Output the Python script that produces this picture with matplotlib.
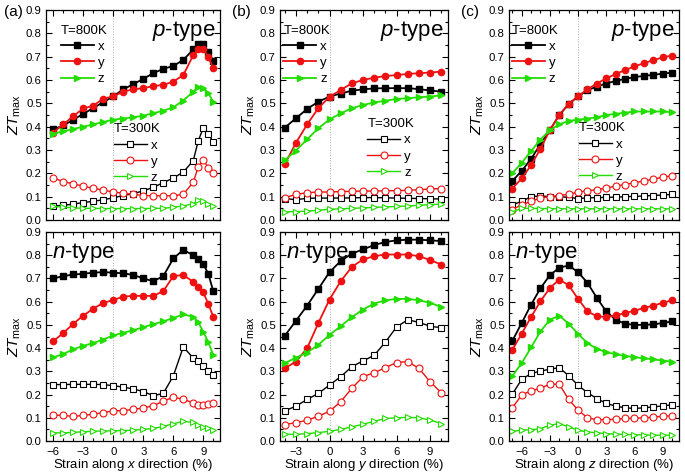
import matplotlib
matplotlib.use("Agg")
import matplotlib.pyplot as plt
from matplotlib.ticker import MultipleLocator, FixedLocator

plt.rcParams['font.family'] = ['Liberation Sans', 'DejaVu Sans']
plt.rcParams['mathtext.fontset'] = 'custom'
plt.rcParams['mathtext.rm'] = 'Liberation Sans'
plt.rcParams['mathtext.it'] = 'Liberation Sans:italic'

# ---------------- data ----------------
# strain values
strain_a = [-6, -5, -4, -3, -2, -1, 0, 1, 2, 3, 4, 5, 6, 7, 8, 8.5, 9, 9.5, 10]
strain_b = [-4, -3, -2, -1, 0, 1, 2, 3, 4, 5, 6, 7, 8, 9, 10]
strain_c = [-7, -6, -5, -4, -3, -2, -1, 0, 1, 2, 3, 4, 5, 6, 7, 8, 9, 10]

# (a) p-type
a_p_800_x = [0.388, 0.405, 0.43, 0.455, 0.48, 0.505, 0.53, 0.56, 0.582, 0.605, 0.629, 0.648, 0.66, 0.686, 0.731, 0.753, 0.753, 0.721, 0.683]
a_p_800_y = [0.375, 0.41, 0.445, 0.478, 0.49, 0.52, 0.53, 0.55, 0.56, 0.565, 0.574, 0.579, 0.593, 0.621, 0.707, 0.731, 0.731, 0.70, 0.65]
a_p_800_z = [0.37, 0.38, 0.39, 0.40, 0.41, 0.42, 0.43, 0.435, 0.44, 0.447, 0.458, 0.468, 0.483, 0.512, 0.55, 0.571, 0.564, 0.543, 0.507]
a_p_300_x = [0.06, 0.063, 0.068, 0.075, 0.08, 0.087, 0.095, 0.105, 0.113, 0.125, 0.14, 0.16, 0.18, 0.205, 0.255, 0.34, 0.395, 0.37, 0.333]
a_p_300_y = [0.18, 0.165, 0.155, 0.145, 0.136, 0.128, 0.12, 0.115, 0.11, 0.105, 0.104, 0.104, 0.104, 0.11, 0.162, 0.228, 0.257, 0.225, 0.203]
a_p_300_z = [0.058, 0.055, 0.052, 0.05, 0.05, 0.049, 0.049, 0.049, 0.049, 0.049, 0.05, 0.05, 0.055, 0.06, 0.07, 0.085, 0.08, 0.07, 0.06]

# (a) n-type
a_n_800_x = [0.70, 0.71, 0.717, 0.72, 0.725, 0.727, 0.725, 0.722, 0.715, 0.70, 0.688, 0.71, 0.786, 0.823, 0.80, 0.785, 0.762, 0.72, 0.645]
a_n_800_y = [0.43, 0.465, 0.505, 0.54, 0.57, 0.595, 0.607, 0.622, 0.625, 0.625, 0.625, 0.645, 0.71, 0.715, 0.685, 0.665, 0.64, 0.59, 0.535]
a_n_800_z = [0.36, 0.375, 0.395, 0.41, 0.422, 0.437, 0.455, 0.466, 0.477, 0.49, 0.503, 0.515, 0.53, 0.545, 0.535, 0.512, 0.47, 0.425, 0.37]
a_n_300_x = [0.243, 0.243, 0.244, 0.244, 0.244, 0.243, 0.238, 0.232, 0.224, 0.213, 0.195, 0.205, 0.28, 0.405, 0.357, 0.345, 0.322, 0.30, 0.285]
a_n_300_y = [0.112, 0.11, 0.106, 0.11, 0.116, 0.122, 0.13, 0.131, 0.136, 0.142, 0.152, 0.172, 0.188, 0.18, 0.164, 0.156, 0.157, 0.16, 0.164]
a_n_300_z = [0.035, 0.035, 0.037, 0.04, 0.042, 0.043, 0.044, 0.045, 0.047, 0.05, 0.054, 0.063, 0.074, 0.085, 0.08, 0.07, 0.06, 0.054, 0.048]

# (b) p-type
b_p_800_x = [0.396, 0.436, 0.476, 0.507, 0.529, 0.542, 0.554, 0.56, 0.564, 0.565, 0.565, 0.565, 0.561, 0.555, 0.55]
b_p_800_y = [0.239, 0.331, 0.41, 0.479, 0.528, 0.557, 0.586, 0.60, 0.61, 0.617, 0.621, 0.626, 0.629, 0.632, 0.636]
b_p_800_z = [0.257, 0.297, 0.346, 0.393, 0.431, 0.457, 0.479, 0.493, 0.504, 0.511, 0.519, 0.522, 0.526, 0.529, 0.534]
b_p_300_x = [0.092, 0.087, 0.093, 0.094, 0.094, 0.094, 0.095, 0.096, 0.096, 0.095, 0.094, 0.093, 0.092, 0.091, 0.09]
b_p_300_y = [0.095, 0.11, 0.117, 0.12, 0.12, 0.122, 0.123, 0.124, 0.124, 0.125, 0.126, 0.127, 0.13, 0.133, 0.135]
b_p_300_z = [0.035, 0.036, 0.038, 0.042, 0.046, 0.048, 0.05, 0.052, 0.054, 0.056, 0.058, 0.06, 0.063, 0.066, 0.068]

# (b) n-type
b_n_800_x = [0.453, 0.518, 0.583, 0.655, 0.727, 0.775, 0.807, 0.825, 0.844, 0.857, 0.864, 0.867, 0.867, 0.864, 0.861]
b_n_800_y = [0.313, 0.342, 0.40, 0.508, 0.609, 0.688, 0.75, 0.782, 0.796, 0.803, 0.803, 0.803, 0.796, 0.779, 0.76]
b_n_800_z = [0.335, 0.359, 0.381, 0.414, 0.457, 0.494, 0.534, 0.566, 0.592, 0.606, 0.612, 0.612, 0.606, 0.595, 0.577]
b_n_300_x = [0.13, 0.15, 0.179, 0.205, 0.241, 0.277, 0.32, 0.345, 0.369, 0.426, 0.491, 0.522, 0.511, 0.494, 0.488]
b_n_300_y = [0.071, 0.079, 0.089, 0.107, 0.128, 0.169, 0.227, 0.277, 0.294, 0.316, 0.338, 0.342, 0.313, 0.255, 0.208]
b_n_300_z = [0.029, 0.028, 0.032, 0.036, 0.042, 0.05, 0.061, 0.072, 0.085, 0.097, 0.10, 0.102, 0.10, 0.09, 0.075]

# (c) p-type
c_p_800_x = [0.167, 0.21, 0.262, 0.325, 0.385, 0.45, 0.497, 0.53, 0.556, 0.572, 0.585, 0.596, 0.605, 0.612, 0.618, 0.622, 0.627, 0.632]
c_p_800_y = [0.135, 0.178, 0.235, 0.305, 0.385, 0.45, 0.497, 0.53, 0.56, 0.585, 0.607, 0.625, 0.643, 0.658, 0.672, 0.685, 0.697, 0.705]
c_p_800_z = [0.20, 0.245, 0.295, 0.345, 0.385, 0.41, 0.425, 0.43, 0.435, 0.44, 0.45, 0.455, 0.46, 0.465, 0.465, 0.465, 0.465, 0.462]
c_p_300_x = [0.065, 0.08, 0.10, 0.103, 0.10, 0.10, 0.097, 0.092, 0.095, 0.096, 0.097, 0.098, 0.10, 0.101, 0.103, 0.105, 0.107, 0.11]
c_p_300_y = [0.045, 0.065, 0.08, 0.095, 0.10, 0.105, 0.11, 0.12, 0.125, 0.13, 0.137, 0.145, 0.152, 0.16, 0.167, 0.175, 0.183, 0.19]
c_p_300_z = [0.035, 0.05, 0.05, 0.049, 0.049, 0.048, 0.048, 0.048, 0.048, 0.048, 0.048, 0.048, 0.048, 0.048, 0.048, 0.048, 0.048, 0.048]

# (c) n-type
c_n_800_x = [0.431, 0.508, 0.587, 0.658, 0.714, 0.746, 0.756, 0.727, 0.681, 0.616, 0.558, 0.522, 0.505, 0.50, 0.50, 0.502, 0.508, 0.515]
c_n_800_y = [0.392, 0.462, 0.534, 0.602, 0.659, 0.695, 0.671, 0.612, 0.558, 0.537, 0.534, 0.541, 0.551, 0.561, 0.573, 0.583, 0.595, 0.606]
c_n_800_z = [0.28, 0.335, 0.403, 0.472, 0.522, 0.54, 0.505, 0.462, 0.421, 0.397, 0.382, 0.374, 0.366, 0.361, 0.356, 0.352, 0.346, 0.342]
c_n_300_x = [0.202, 0.265, 0.291, 0.301, 0.309, 0.316, 0.281, 0.24, 0.208, 0.183, 0.162, 0.15, 0.143, 0.14, 0.143, 0.147, 0.151, 0.156]
c_n_300_y = [0.143, 0.198, 0.216, 0.227, 0.245, 0.244, 0.179, 0.133, 0.10, 0.092, 0.092, 0.094, 0.097, 0.098, 0.10, 0.102, 0.107, 0.108]
c_n_300_z = [0.042, 0.046, 0.049, 0.053, 0.068, 0.075, 0.061, 0.046, 0.039, 0.035, 0.032, 0.029, 0.028, 0.027, 0.026, 0.025, 0.025, 0.025]

panel_labels = ['(a)', '(b)', '(c)']
dir_labels = ['x', 'y', 'z']
xticks_a = [-6, -3, 0, 3, 6, 9]
xticks_b = [-3, 0, 3, 6, 9]
xticks_c = [-6, -3, 0, 3, 6, 9]
series_names = ['x', 'y', 'z']

# ---------------- style ----------------
COLORS = ['black', '#ee1111', '#22dd00']
MARKERS = ['s', 'o', '>']
W, H = 685, 474
fig = plt.figure(figsize=(W / 100, H / 100), dpi=100)


def ax_rect(left, right, top, bottom):
    return [left / W, 1 - bottom / H, (right - left) / W, (bottom - top) / H]


cols = [(46, 220, (-6.73, 10.67)), (280, 448, (-4.43, 10.6)), (509, 679, (-7.35, 10.74))]
rows = [(10, 220), (232, 441)]

strains = [strain_a, strain_b, strain_c]
xticks_all = [xticks_a, xticks_b, xticks_c]
data = [
    [[a_p_800_x, a_p_800_y, a_p_800_z, a_p_300_x, a_p_300_y, a_p_300_z],
     [a_n_800_x, a_n_800_y, a_n_800_z, a_n_300_x, a_n_300_y, a_n_300_z]],
    [[b_p_800_x, b_p_800_y, b_p_800_z, b_p_300_x, b_p_300_y, b_p_300_z],
     [b_n_800_x, b_n_800_y, b_n_800_z, b_n_300_x, b_n_300_y, b_n_300_z]],
    [[c_p_800_x, c_p_800_y, c_p_800_z, c_p_300_x, c_p_300_y, c_p_300_z],
     [c_n_800_x, c_n_800_y, c_n_800_z, c_n_300_x, c_n_300_y, c_n_300_z]],
]
leg800_pos = [(0.085, 0.93), (0.02, 0.93), (0.015, 0.93)]
leg300_pos = [(0.39, 0.46), (0.52, 0.485), (0.41, 0.465)]

TICK_FS = 8.2
LEG_FS = 9.5

for ci, (l, r, xlim) in enumerate(cols):
    x = strains[ci]
    for ri, (t, b) in enumerate(rows):
        ax = fig.add_axes(ax_rect(l, r, t, b))
        series = data[ci][ri]
        hot, cold = [], []
        for k in range(3):
            h, = ax.plot(x, series[k], color=COLORS[k], marker=MARKERS[k], ms=4.5,
                         lw=1.3, mfc=COLORS[k], mec=COLORS[k], label=series_names[k])
            hot.append(h)
        for k in range(3):
            h, = ax.plot(x, series[3 + k], color=COLORS[k], marker=MARKERS[k], ms=5,
                         lw=1.0, mfc='white', mec=COLORS[k], mew=0.8, label=series_names[k])
            cold.append(h)
        ax.axvline(0, color='#aaaaaa', lw=0.7, ls=':', zorder=0)
        ax.set_xlim(*xlim)
        ax.set_ylim(0, 0.9)
        ax.yaxis.set_major_locator(MultipleLocator(0.1))
        ax.yaxis.set_minor_locator(MultipleLocator(0.05))
        ax.xaxis.set_major_locator(FixedLocator(xticks_all[ci]))
        ax.xaxis.set_minor_locator(MultipleLocator(1))
        ax.tick_params(which='both', direction='in', top=True, right=True,
                       labelsize=TICK_FS, width=0.8)
        ax.tick_params(which='major', length=4, pad=3)
        ax.tick_params(axis='x', which='major', pad=4)
        ax.tick_params(which='minor', length=2.5)
        ax.set_yticklabels([f'{v:.1f}' for v in ax.get_yticks()])
        for s in ax.spines.values():
            s.set_linewidth(0.9)
        ax.set_ylabel(r'$ZT_{\rm max}$', fontsize=11, labelpad=2)
        if ri == 0:
            ax.tick_params(labelbottom=False)
            ax.text(0.975, 0.955, r'$p$-type', transform=ax.transAxes, ha='right',
                    va='top', fontsize=16)
            lg1 = ax.legend(handles=hot, title='T=800K', loc='upper left',
                            bbox_to_anchor=leg800_pos[ci], frameon=False,
                            fontsize=LEG_FS, title_fontsize=LEG_FS, alignment='left',
                            handlelength=2.5, handletextpad=0.3, labelspacing=0.3,
                            borderpad=0, borderaxespad=0)
            ax.add_artist(lg1)
            ax.legend(handles=cold, title='T=300K', loc='upper left',
                      bbox_to_anchor=leg300_pos[ci], frameon=False,
                      fontsize=LEG_FS, title_fontsize=LEG_FS, alignment='left',
                      handlelength=2.5, handletextpad=0.3, labelspacing=0.3,
                      borderpad=0, borderaxespad=0)
            fig.text((l - 42) / W if ci == 0 else (l - 48) / W, 1 - 12 / H,
                     panel_labels[ci], fontsize=11, va='center', ha='left')
        else:
            ax.text(0.035, 0.955, r'$n$-type', transform=ax.transAxes, ha='left',
                    va='top', fontsize=16)
            ax.set_xlabel('Strain along $' + dir_labels[ci] + '$ direction (%)',
                          fontsize=9.5, labelpad=0.5)

fig.savefig('out.png', dpi=100)
